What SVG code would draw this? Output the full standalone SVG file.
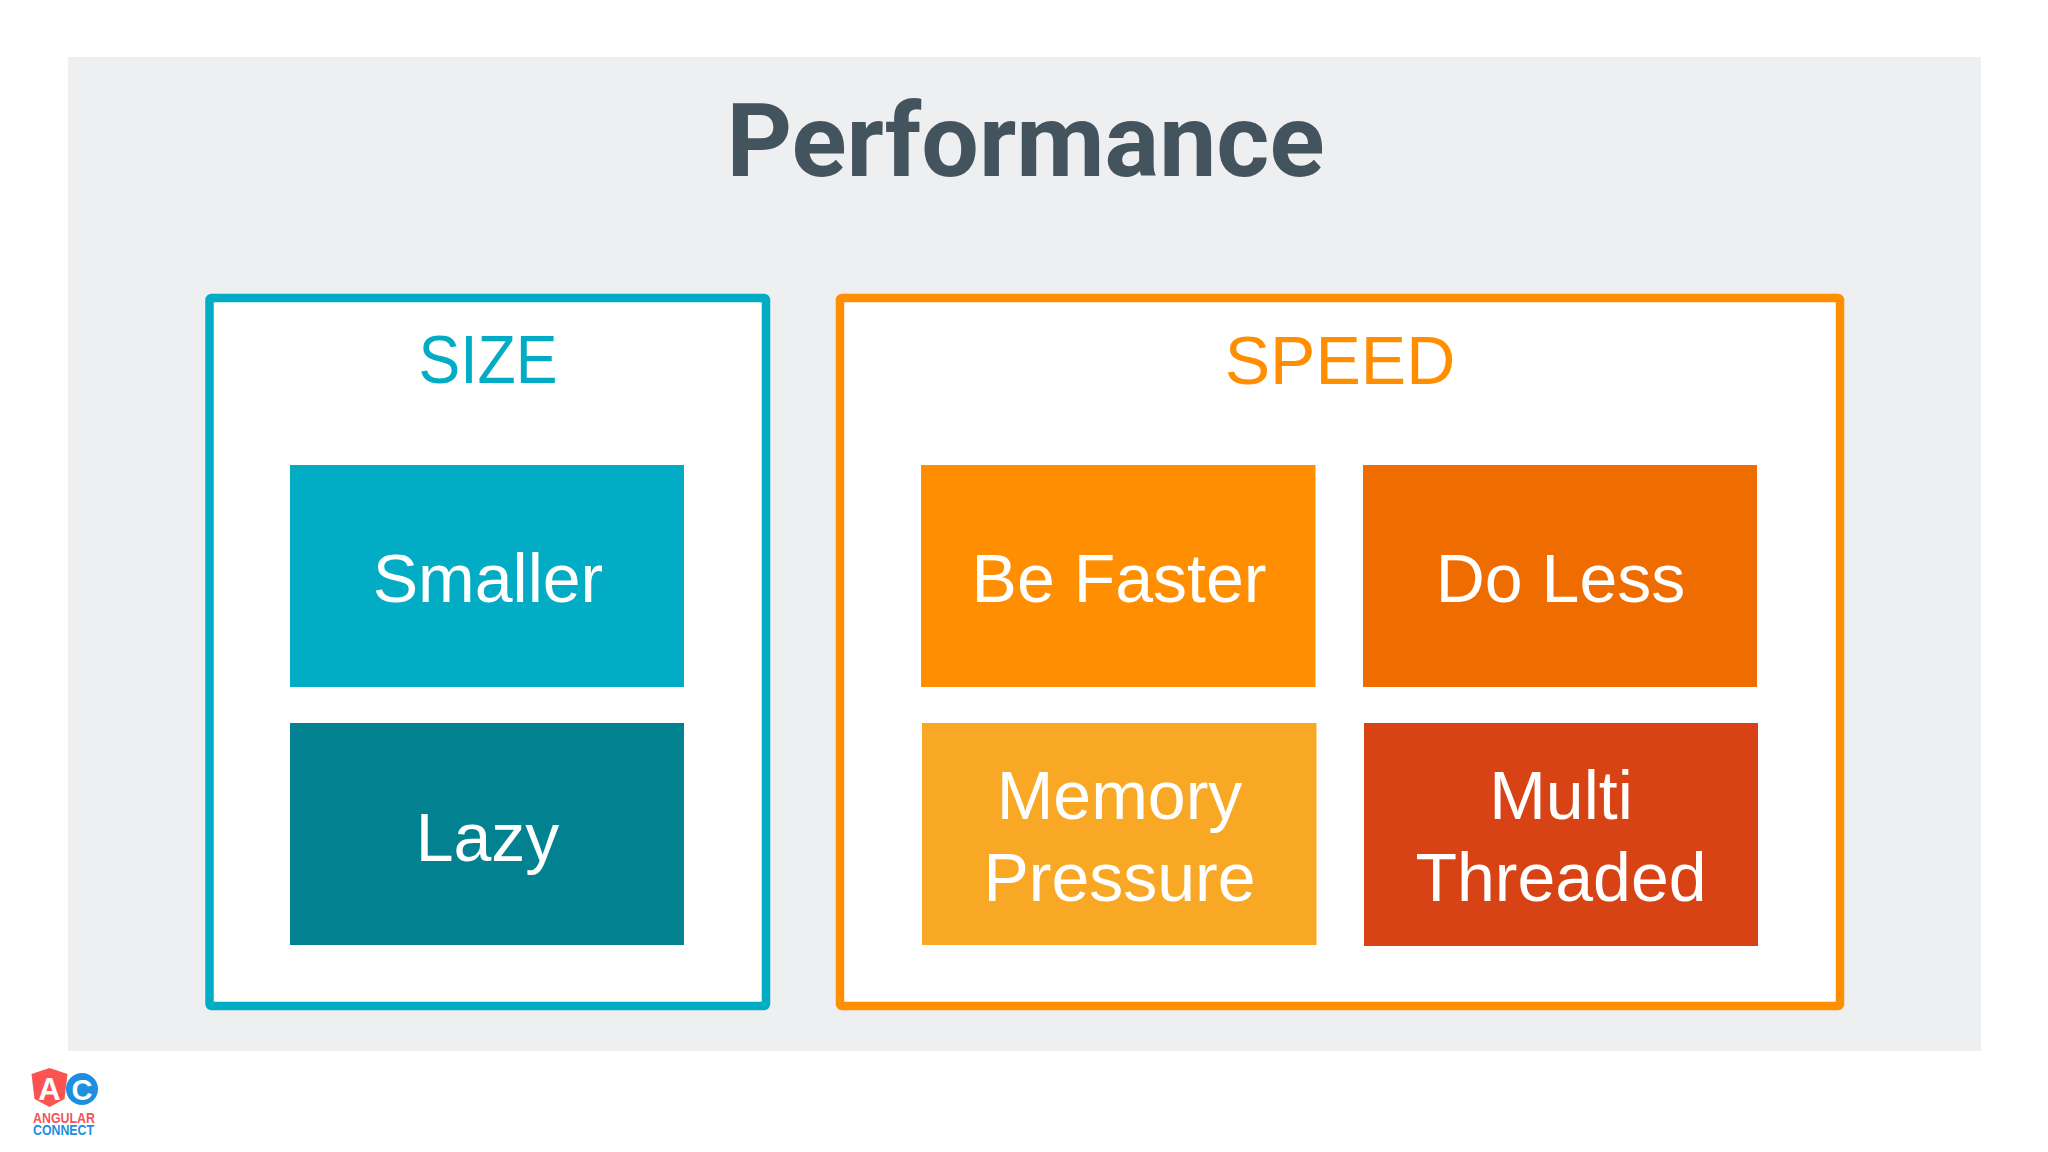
<svg xmlns="http://www.w3.org/2000/svg" width="2048" height="1152" viewBox="0 0 2048 1152">
<style>
text{font-family:"Liberation Sans",Arial,sans-serif;text-anchor:middle}
.t{font-size:68px;fill:#fff}
.h{font-size:68px}
.g{fill:#fff;stroke-width:8.5}
.r{font-family:"Roboto","Liberation Sans",sans-serif;font-weight:700}
</style>
<rect width="2048" height="1152" fill="#fff"/>
<rect x="68" y="57" width="1913" height="994" fill="#eeeff1"/>
<text class="r" x="1025.500" y="175.500" font-size="102" fill="#44545f">Performance</text>
<g id="size">
<rect class="g" x="209.500" y="298" width="556.500" height="708" rx="2" stroke="#02acc4"/>
<text class="h" x="488" y="383" fill="#02acc4" textLength="139" lengthAdjust="spacingAndGlyphs">SIZE</text>
</g>
<g id="speed">
<rect class="g" x="840" y="298" width="1000" height="708" rx="2" stroke="#ff8f00"/>
<text class="h" x="1340" y="384" fill="#ff8f00">SPEED</text>
</g>
<g id="smaller"><rect x="290" y="465" width="394" height="222" fill="#02acc4"/><text class="t" x="488" y="602">Smaller</text></g>
<g id="lazy"><rect x="290" y="723" width="394" height="222" fill="#028290"/><text class="t" x="487.500" y="861">Lazy</text></g>
<g id="be-faster"><rect x="921" y="465" width="394.500" height="222" fill="#ff8f00"/><text class="t" x="1119" y="602">Be Faster</text></g>
<g id="do-less"><rect x="1363" y="465" width="394" height="222" fill="#ef6c00"/><text class="t" x="1560.500" y="602">Do Less</text></g>
<g id="memory-pressure"><rect x="922" y="723" width="394.500" height="222" fill="#f9a825"/><text class="t" x="1119.500" y="819">Memory</text><text class="t" x="1119.500" y="901">Pressure</text></g>
<g id="multi-threaded"><rect x="1364" y="723" width="394" height="223" fill="#d84315"/><text class="t" x="1561" y="819">Multi</text><text class="t" x="1561" y="901">Threaded</text></g>
<g id="logo">
<path d="M49.500 1068l18 6-3 25-15 8-15-8-3-25z" fill="#fb5252"/>
<circle cx="82" cy="1089" r="16" fill="#1c8fe0"/>
<text x="49.500" y="1100" font-size="31" font-weight="700" fill="#fff">A</text>
<text x="82" y="1099.500" font-size="29" font-weight="700" fill="#fff">C</text>
<text x="64" y="1123" font-size="14" font-weight="700" fill="#f2555f" textLength="62" lengthAdjust="spacingAndGlyphs">ANGULAR</text>
<text x="63.500" y="1135" font-size="14" font-weight="700" fill="#1c8fe0" textLength="61" lengthAdjust="spacingAndGlyphs">CONNECT</text>
</g>
</svg>
